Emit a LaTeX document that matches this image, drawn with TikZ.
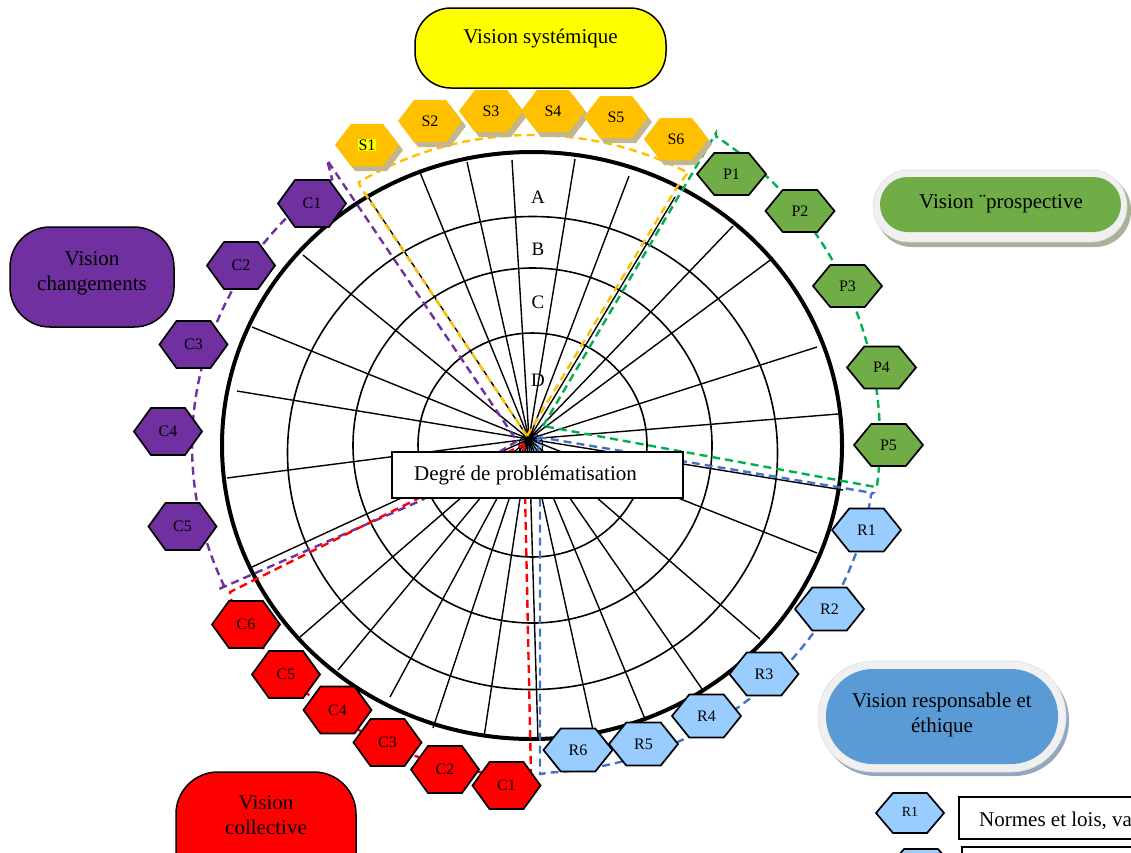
\documentclass[tikz,border=0pt]{standalone}
\usepackage{fontspec}
\setmainfont{Liberation Serif}
\definecolor{cyellow}{HTML}{FFFF00}
\definecolor{corange}{HTML}{FFC000}
\definecolor{cshadow}{RGB}{196,182,140}
\definecolor{cpurple}{HTML}{7030A0}
\definecolor{cgreen}{HTML}{70AD47}
\definecolor{cgreendash}{HTML}{00B050}
\definecolor{cred}{HTML}{FF0000}
\definecolor{clight}{HTML}{99CCFF}
\definecolor{cblue}{HTML}{5B9BD5}
\definecolor{cbluedash}{HTML}{4472C4}
\definecolor{cglow}{RGB}{240,240,240}
\definecolor{cglowedge}{RGB}{222,222,222}
\definecolor{cgshadow}{RGB}{168,178,152}
\definecolor{cbshadow}{RGB}{150,166,190}
\newcommand\hexpath[5]{\path[#1] (#2,#3) +(-#4,0) -- +(-#4/2,-#5) -- +(#4/2,-#5) -- +(#4,0) -- +(#4/2,#5) -- +(-#4/2,#5) -- cycle;}
\newcommand\hexnode[7]{\hexpath{#1}{#3}{#4}{#5}{#6}\node[hexlabel] (#2) at (#3,#4) {#7};}
\newcommand\shexnode[4]{\hexpath{sshadow,shift={(4,5)}}{#2}{#3}{32}{21}\hexnode{shex}{#1}{#2}{#3}{32}{21}{#4}}
\begin{document}
\begin{tikzpicture}[x=1pt,y=-1pt,
 spoke/.style={line width=1.4pt},
 ring/.style={line width=1.6pt},
 outerring/.style={line width=4pt},
 envelope/.style={dash pattern=on 8pt off 5pt, line width=2.4pt},
 hexlabel/.style={inner sep=0pt, font=\fontsize{16}{19}\selectfont},
 hexborder/.style={draw=black, line width=1.7pt},
 phex/.style={hexborder, fill=cpurple},
 rhex/.style={hexborder, fill=cred},
 ghex/.style={hexborder, fill=cgreen},
 bhex/.style={hexborder, fill=clight},
 shex/.style={fill=corange},
 sshadow/.style={fill=cshadow},
 ringlabel/.style={font=\fontsize{19}{22}\selectfont, inner sep=0pt},
 visionbox/.style={draw=black, line width=1.5pt},
 visiontext/.style={font=\fontsize{21}{25}\selectfont, align=center, inner sep=0pt},
 legendbox/.style={draw=black, line width=1.5pt, fill=white},
]
\useasboundingbox (0,0) rectangle (1131,852);
\clip (0,0) rectangle (1131,852);
\coordinate (hub) at (529,439);
% hub blob
\fill[clight, draw=black, line width=0.9pt] (531,445) circle [radius=12];
% rings
\draw[ring] (532.5,453) ellipse [x radius=245, y radius=236.5];
\draw[ring] (532.5,445.5) ellipse [x radius=179.5, y radius=177.5];
\draw[ring] (532.5,445) ellipse [x radius=114.5, y radius=112];
% spokes
\foreach \x/\y in {368/197, 419/170, 467/162, 512/160, 575/159, 629/176, 675/197, 733/226, 773/258, 817/347, 838/414, 843/490,
  303/255, 252/327, 237/391, 227/478, 252/567,
  300/637, 338/670, 390/697, 433/728, 484/737, 538/740, 593/730, 645/719, 702/689, 760/639, 817/553}
  \draw[spoke] (hub) -- (\x,\y);
% outer circle
\draw[outerring] (532,445.5) ellipse [x radius=310, y radius=293.5];
% ring labels
\node[ringlabel] (la) at (538,197) {A};
\node[ringlabel] (lb) at (538,249) {B};
\node[ringlabel] (lc) at (538,302) {C};
\node[ringlabel] (ld) at (538,380) {D};
% dashed envelopes
\draw[envelope, draw=cpurple] (517,441) -- (422,500) -- (219,589) -- plot[domain=155:234, samples=40] ({532+340*cos(\x)},{446+330*sin(\x)}) -- (327,160) -- cycle;
\draw[envelope, draw=cred] (524,444) -- (531,775) -- plot[domain=90.5:152.5, samples=30] ({532+340*cos(\x)},{446+330*sin(\x)}) -- (230,592) -- (415,500) -- cycle;
\draw[envelope, draw=corange] (527,436) -- (360,186) -- plot[domain=-122:-61.5, samples=40] ({532+327*cos(\x)},{446+311*sin(\x)}) -- (677,187) -- cycle;
\draw[envelope, draw=cgreendash] (543,426) -- (716,133) -- plot[domain=-57:7.5, samples=40] ({520+360*cos(\x)},{440+362*sin(\x)}) -- cycle;
\draw[envelope, draw=cbluedash] (538,437) -- (873,493) -- plot[domain=8.5:87, samples=40] ({532+343*cos(\x)},{446+327*sin(\x)}) -- (540,774) -- (540,498) -- cycle;
% S hexagons
\shexnode{s1}{367}{145}{}
\node[hexlabel, fill=cyellow, inner sep=0.6pt] (s1t) at (367,145) {S1};
\shexnode{s2}{430}{121}{S2}
\shexnode{s3}{491}{111}{S3}
\shexnode{s4}{553}{111}{S4}
\shexnode{s5}{616}{117}{S5}
\shexnode{s6}{676}{139}{S6}
% purple C
\hexnode{phex}{pc1}{312}{203.5}{34}{23.5}{C1}
\hexnode{phex}{pc2}{241}{265.5}{34}{23.5}{C2}
\hexnode{phex}{pc3}{193.5}{344.5}{34}{23.5}{C3}
\hexnode{phex}{pc4}{168}{431.5}{34}{23.5}{C4}
\hexnode{phex}{pc5}{182.5}{526.5}{34}{23.5}{C5}
% red C
\hexnode{rhex}{rc6}{246}{624.5}{34}{23.5}{C6}
\hexnode{rhex}{rc5}{286}{674.5}{34}{23.5}{C5}
\hexnode{rhex}{rc4}{337.5}{710}{34}{23.5}{C4}
\hexnode{rhex}{rc3}{387.5}{742.5}{34}{23.5}{C3}
\hexnode{rhex}{rc2}{445}{769.5}{34}{23.5}{C2}
\hexnode{rhex}{rc1}{506.5}{785.5}{34}{23.5}{C1}
% green P
\hexnode{ghex}{p1}{731.5}{174}{34.5}{21}{P1}
\hexnode{ghex}{p2}{800}{211}{34.5}{21}{P2}
\hexnode{ghex}{p3}{847.5}{286}{34.5}{21}{P3}
\hexnode{ghex}{p4}{881.5}{367.5}{34.5}{21}{P4}
\hexnode{ghex}{p5}{888.5}{445}{34.5}{21}{P5}
% blue R
\hexnode{bhex}{r6}{578}{750}{34.5}{21.5}{R6}
\hexnode{bhex}{r5}{643.5}{744}{34.5}{21.5}{R5}
\hexnode{bhex}{r4}{706.5}{716}{34.5}{21.5}{R4}
\hexnode{bhex}{r3}{764}{674}{34.5}{21.5}{R3}
\hexnode{bhex}{r2}{829.5}{609}{34.5}{21.5}{R2}
\hexnode{bhex}{r1}{866.5}{530}{34.5}{21.5}{R1}
% central box
\node[draw=black, line width=1.5pt, fill=white, minimum width=291pt, minimum height=46pt, inner sep=0pt, font=\fontsize{21}{25}\selectfont] (degre) at (537.5,475) {Degré de problématisation\hspace*{24pt}};
% title boxes
\draw[visionbox, fill=cyellow, rounded corners=36pt] (415,8) rectangle (666,88);
\node[visiontext] (vsys) at (540.5,38) {Vision systémique};
\draw[visionbox, fill=cpurple, rounded corners=40pt] (10,227) rectangle (174,327);
\node[visiontext] (vchg) at (92,273) {Vision\\changements};
\draw[visionbox, fill=cred, rounded corners=42pt] (176,772) rectangle (356,905);
\node[visiontext] (vcol) at (266,815) {Vision\\collective};
\fill[cgshadow, rounded corners=36pt] (876,174) rectangle (1131,247);
\fill[cglow, draw=cglowedge, line width=0.6pt, rounded corners=36pt] (873,170) rectangle (1127,242);
\fill[cgreen, rounded corners=27.5pt] (880,177) rectangle (1121,232);
\node[visiontext] (vpro) at (1001,204) {Vision ¨prospective};
\fill[cbshadow, rounded corners=55pt] (821,665) rectangle (1069,776);
\fill[cglow, draw=cglowedge, line width=0.6pt, rounded corners=55pt] (818,661) rectangle (1066,772);
\fill[cblue, rounded corners=47pt] (826,669) rectangle (1058,764);
\node[visiontext] (vres) at (942,715) {Vision responsable et\\éthique};
% legend
\hexpath{bhex}{910}{813}{34}{20}
\node[hexlabel, font=\fontsize{14}{16}\selectfont] (lr1) at (910,812) {R1};
\draw[legendbox] (959,797) rectangle (1140,839);
\node[visiontext, anchor=west] (leg1) at (979,821) {Normes et lois, va};
\hexpath{bhex}{921}{869}{34}{20}
\draw[legendbox] (962,847) rectangle (1140,900);
\end{tikzpicture}
\end{document}
